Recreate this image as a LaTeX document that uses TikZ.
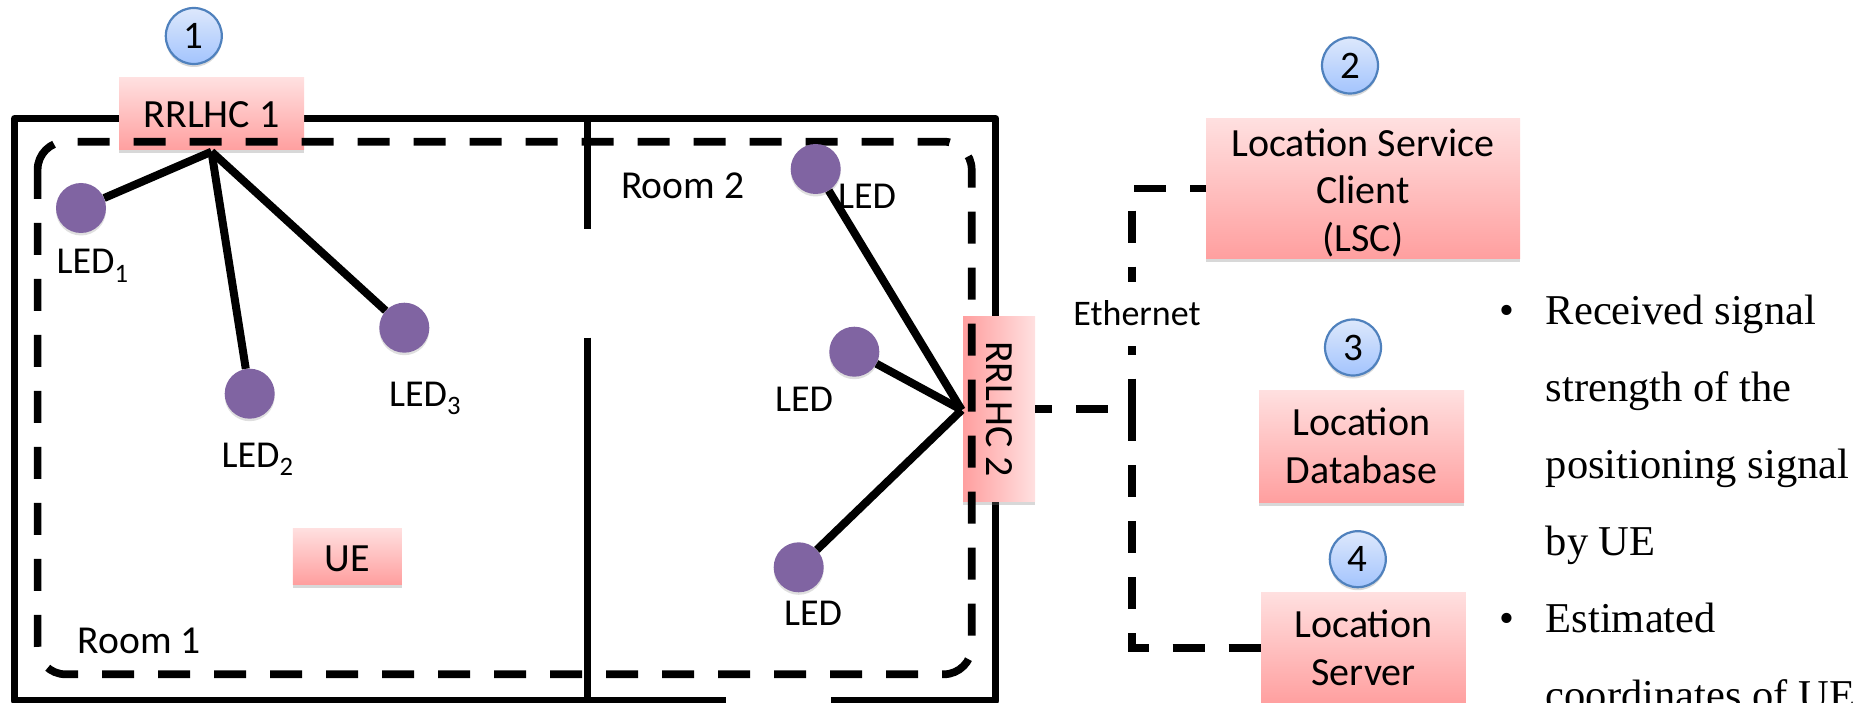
\documentclass[tikz,border=0pt]{standalone}
\usepackage{fontspec}
\setmainfont{Carlito}
\newfontfamily\bodyserif{Liberation Serif}
\usetikzlibrary{shadows}
\definecolor{boxtop}{HTML}{FFE0E0}
\definecolor{boxbottom}{HTML}{FF9F9F}
\definecolor{numtop}{HTML}{DDE8FC}
\definecolor{numbottom}{HTML}{A3C4FD}
\definecolor{numdraw}{HTML}{4F81BD}
\definecolor{ledfill}{HTML}{8064A2}
\tikzset{
  % Rooms and links
  wall/.style={line width=7.5,line join=round},
  room dash/.style={line width=7.7,dash pattern=on 32 off 24},
  ethernet/.style={line width=7.7,dash pattern=on 32 off 24},
  connect/.style={line width=8},
  % Nodes
  led/.style={circle,fill=ledfill,minimum size=50,inner sep=0,
    drop shadow={shadow xshift=0,shadow yshift=2.5,opacity=.25}},
  box/.style={rectangle,top color=boxtop,bottom color=boxbottom,inner sep=0,align=center,
    font=\fontsize{40}{47.5}\selectfont,
    drop shadow={shadow xshift=0,shadow yshift=3.5,opacity=.3}},
  num/.style={circle,draw=numdraw,line width=2.2,top color=numtop,bottom color=numbottom,
    minimum size=56,inner sep=0,font=\fontsize{39}{47}\selectfont,
    drop shadow={shadow xshift=0,shadow yshift=3,opacity=.3}},
  label text/.style={anchor=base west,inner sep=0,font=\fontsize{38}{46}\selectfont},
  room text/.style={anchor=base west,inner sep=0,font=\fontsize{39.6}{46}\selectfont},
  bullet text/.style={anchor=base west,inner sep=0,align=left,
    font=\bodyserif\fontsize{42.5}{77}\selectfont},
  bullet mark/.style={anchor=base,inner sep=0,font=\bodyserif\fontsize{42.5}{77}\selectfont}
}
\begin{document}
\begin{tikzpicture}[x=1pt,y=-1pt]
  \useasboundingbox (0,0) rectangle (1860,703);
  \clip (0,0) rectangle (1860,703);
  \fill[white] (0,0) rectangle (1860,703);
  % walls
  \draw[wall] (726,701) -- (14.6,701) -- (14.6,118.6) -- (995.7,118.6) -- (995.7,701) -- (831,701);
  \draw[wall] (587.3,118.6) -- (587.3,229.3);
  \draw[wall] (587.3,337.5) -- (587.3,701);
  % servers and heads
  \node[box,text height=28,minimum width=185,minimum height=72] (rrlhc1) at (211.5,114) {RRLHC 1};
  \node[box,left color=boxbottom,right color=boxtop,minimum width=185.7,minimum height=72,rotate=-90] (rrlhc2) at (999,409) {RRLHC 2};
  \node[box,text height=32,minimum width=109,minimum height=56] (ue) at (347.3,556) {UE};
  \node[box,minimum width=314,minimum height=140.3] (lsc) at (1363,188.5) {\rule{0pt}{36pt}Location Service\\Client\\(LSC)};
  \node[box,minimum width=205,minimum height=112] (database) at (1361.5,446) {Location\\Database};
  \node[box,minimum width=204.7,minimum height=112] (server) at (1363.5,648) {Location\\Server};
  \node[num] (num1) at (193.8,36) {1};
  \node[num] (num2) at (1350,65.5) {2};
  \node[num] (num3) at (1353,347.5) {3};
  \node[num] (num4) at (1357.8,559.2) {4};
  % coverage area
  \draw[room dash,rounded corners=28] (37.6,169.7) -- (37.6,141.7) -- (971.7,141.7) -- (971.7,674.3) -- (37.6,674.3) -- (37.6,169.7);
  % ethernet
  \coordinate (junction) at (1131.7,409);
  \draw[ethernet,dash phase=15.8] (lsc.west) -| (junction);
  \draw[ethernet] (junction) |- (server.west);
  \draw[ethernet,dash phase=32] (junction) -- (rrlhc2.north);
  \node[anchor=base,fill=white,inner sep=0,text height=43.3,text depth=21,
    font=\fontsize{36}{42}\selectfont] (ethernet) at (1137,325) {Ethernet};
  % leds
  \coordinate (hub1) at (211.5,151.7);
  \coordinate (hub2) at (961.7,410);
  \node[led] (led1) at (81,208) {};
  \node[led] (led2) at (249.7,393.7) {};
  \node[led] (led3) at (404.3,327.7) {};
  \node[led] (led4) at (815.7,169) {};
  \node[led] (led5) at (854.3,351.7) {};
  \node[led] (led6) at (798.7,567.3) {};
  \foreach \i in {1,2,3}
    \draw[connect] (led\i) -- (hub1);
  \foreach \i in {4,5,6}
    \draw[connect] (led\i) -- (hub2);
  % labels
  \node[label text] (ledlabel1) at (56.5,274) {LED\textsubscript{1}};
  \node[label text] (ledlabel2) at (221.5,467) {LED\textsubscript{2}};
  \node[label text] (ledlabel3) at (389,406) {LED\textsubscript{3}};
  \node[label text] (ledlabel4) at (838,208.7) {LED};
  \node[label text] (ledlabel5) at (775,411.7) {LED};
  \node[label text] (ledlabel6) at (784,625.5) {LED};
  \node[room text] (room1) at (77.5,653.7) {Room 1};
  \node[room text] (room2) at (621,199) {Room 2};
  % notes
  \node[bullet mark] (mark1) at (1507.4,324.8) {•};
  \node[bullet text] (note1) at (1545.6,555.7) {Received signal\\strength of the\\positioning signal\\by UE};
  \node[bullet mark] (mark2) at (1507.4,632.4) {•};
  \node[bullet text] (note2) at (1545.6,709.5) {Estimated\\coordinates of UE};
\end{tikzpicture}
\end{document}
